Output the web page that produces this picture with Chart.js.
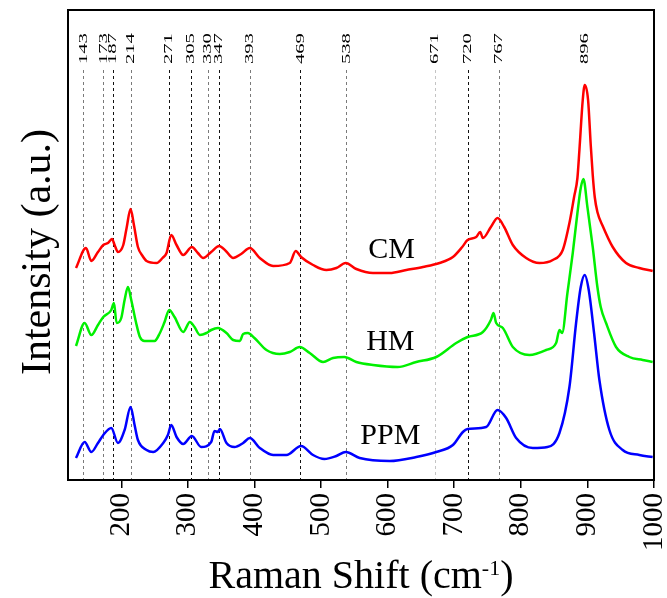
<!DOCTYPE html>
<html>
<head>
<meta charset="utf-8">
<script src="https://cdn.jsdelivr.net/npm/chart.js@4.4.0/dist/chart.umd.min.js"></script>
<style>
  html, body { margin: 0; padding: 0; background: #fff; }
  #wrap { width: 667px; height: 598px; position: relative; }
</style>
</head>
<body>
<div id="wrap"><canvas id="ramanChart"></canvas></div>
<script>
// Raman shift axis ticks (cm-1)
const xTicks = [200, 300, 400, 500, 600, 700, 800, 900, 1000];

// Assigned band positions marked across the plot
const peakShifts = [143, 173, 187, 214, 271, 305, 330, 347, 393, 469, 538, 671, 720, 767, 896];

// CM spectrum (offset, a.u.)
const cmShift = [132, 147, 155, 165, 173, 180, 186, 190, 195, 203, 208, 214, 219, 225, 232, 238, 253, 262, 268, 275, 283, 293, 306, 315, 323, 335, 347, 357, 368, 380, 393, 408, 428, 453, 462, 470, 488, 508, 523, 537, 553, 578, 603, 628, 653, 678, 698, 712, 720, 733, 739, 743, 755, 765, 775, 788, 808, 828, 848, 863, 873, 880, 885, 888, 893, 896, 901, 905, 908, 911, 915, 923, 938, 958, 978, 998];
const cmIntensity = [212, 232, 219, 228, 235, 237, 241, 235, 228, 235, 252, 271, 255, 233, 224, 219, 217, 222, 227, 245, 235, 225, 233, 227, 222, 228, 234, 229, 222, 226, 232, 222, 214, 217, 229, 223, 215, 210, 212, 217, 211, 207, 207, 210, 213, 217, 223, 233, 240, 243, 248, 242, 253, 262, 253, 235, 222, 217, 220, 230, 257, 283, 302, 330, 380, 395, 380, 335, 305, 283, 268, 254, 233, 217, 212, 209];

// HM spectrum (offset, a.u.)
const hmShift = [132, 145, 155, 165, 173, 185, 189, 193, 200, 205, 210, 215, 222, 228, 235, 250, 258, 265, 272, 280, 293, 303, 310, 318, 328, 335, 345, 358, 368, 378, 383, 390, 400, 418, 438, 453, 468, 483, 503, 518, 535, 553, 578, 615, 643, 673, 703, 720, 743, 755, 759, 763, 773, 788, 813, 838, 853, 858, 862, 870, 878, 885, 890, 894, 900, 908, 915, 920, 928, 943, 963, 983, 998];
const hmIntensity = [134, 157, 145, 155, 163, 170, 177, 157, 162, 180, 193, 180, 158, 143, 139, 139, 147, 158, 170, 163, 148, 158, 153, 145, 147, 150, 152, 147, 140, 139, 146, 147, 142, 130, 126, 128, 133, 127, 118, 122, 123, 118, 115, 113, 118, 123, 137, 143, 148, 160, 167, 157, 152, 133, 125, 130, 137, 150, 147, 187, 227, 267, 292, 301, 273, 233, 193, 173, 157, 133, 123, 120, 118];

// PPM spectrum (offset, a.u.)
const ppmShift = [132, 145, 155, 165, 173, 185, 195, 205, 214, 220, 225, 238, 248, 263, 270, 275, 283, 293, 306, 320, 335, 340, 345, 348, 358, 370, 383, 393, 408, 428, 448, 470, 488, 505, 523, 537, 558, 603, 643, 673, 698, 713, 720, 748, 765, 778, 793, 818, 840, 858, 873, 883, 890, 896, 902, 910, 918, 933, 953, 978, 998];
const ppmIntensity = [22, 38, 28, 37, 45, 52, 37, 50, 73, 55, 40, 30, 28, 37, 45, 55, 43, 36, 44, 33, 38, 49, 48, 51, 37, 33, 37, 42, 32, 25, 25, 34, 25, 21, 24, 28, 22, 19, 23, 28, 35, 48, 51, 53, 70, 62, 42, 32, 33, 47, 93, 157, 193, 205, 190, 147, 100, 50, 30, 25, 23];

const serif = "'Liberation Serif', 'Times New Roman', serif";

function toPoints(xs, ys) {
  return xs.map((x, i) => ({ x: x, y: ys[i] }));
}

// dark dashes for some bands, grey for the rest
const darkBands = [187, 271, 305, 347, 469, 720];
function guideColor(p) {
  if (p === 671) return '#c4c4c4';
  return darkBands.includes(p) ? '#111' : '#7a7a7a';
}

const decorations = {
  id: 'decorations',
  beforeDatasetsDraw(chart) {
    const { ctx, chartArea, scales: { x } } = chart;
    ctx.save();
    ctx.lineWidth = 1;
    ctx.setLineDash([3, 3]);
    peakShifts.forEach(p => {
      if (p === 896) return; // the 896 band has only its label
      const px = Math.round(x.getPixelForValue(p)) + 0.5;
      ctx.strokeStyle = guideColor(p);
      ctx.beginPath();
      ctx.moveTo(px, 70);
      ctx.lineTo(px, chartArea.bottom);
      ctx.stroke();
    });
    ctx.restore();
  },
  afterDraw(chart) {
    const { ctx, chartArea, scales: { x, y } } = chart;
    ctx.save();

    // frame
    ctx.strokeStyle = '#000';
    ctx.lineWidth = 2;
    ctx.strokeRect(chartArea.left, chartArea.top, chartArea.right - chartArea.left, chartArea.bottom - chartArea.top);

    // band labels, rotated and stretched along the text
    ctx.fillStyle = '#000';
    ctx.font = '12.5px ' + serif;
    ctx.textAlign = 'left';
    ctx.textBaseline = 'middle';
    peakShifts.forEach(p => {
      ctx.save();
      ctx.translate(x.getPixelForValue(p), 64);
      ctx.rotate(-Math.PI / 2);
      ctx.scale(1.65, 1);
      ctx.fillText(String(p), 0, 0);
      ctx.restore();
    });

    // sample names next to each trace
    ctx.font = '30px ' + serif;
    ctx.textAlign = 'center';
    ctx.textBaseline = 'middle';
    [['CM', 606, 230], ['HM', 604, 138], ['PPM', 604, 44]].forEach(([t, sx, sy]) => {
      ctx.fillText(t, x.getPixelForValue(sx), y.getPixelForValue(sy));
    });

    // y axis title
    ctx.save();
    ctx.font = '42px ' + serif;
    ctx.textBaseline = 'alphabetic';
    ctx.translate(50, (chartArea.top + chartArea.bottom) / 2 + 7);
    ctx.rotate(-Math.PI / 2);
    ctx.fillText('Intensity (a.u.)', 0, 0);
    ctx.restore();

    // x axis title with superscript
    const main = 'Raman Shift (cm';
    const sup = '-1';
    const close = ')';
    ctx.textAlign = 'left';
    ctx.textBaseline = 'alphabetic';
    ctx.font = '40px ' + serif;
    const wMain = ctx.measureText(main).width;
    const wClose = ctx.measureText(close).width;
    ctx.font = '22px ' + serif;
    const wSup = ctx.measureText(sup).width;
    const total = wMain + wSup + wClose;
    let tx = (chartArea.left + chartArea.right) / 2 - total / 2;
    const base = 588;
    ctx.font = '40px ' + serif;
    ctx.fillText(main, tx, base);
    tx += wMain;
    ctx.font = '22px ' + serif;
    ctx.fillText(sup, tx, base - 13);
    tx += wSup;
    ctx.font = '40px ' + serif;
    ctx.fillText(close, tx, base);

    ctx.restore();
  }
};

new Chart(document.getElementById('ramanChart'), {
  type: 'line',
  data: {
    datasets: [
      { label: 'CM', data: toPoints(cmShift, cmIntensity), borderColor: '#ff0000' },
      { label: 'HM', data: toPoints(hmShift, hmIntensity), borderColor: '#00f000' },
      { label: 'PPM', data: toPoints(ppmShift, ppmIntensity), borderColor: '#0000ff' }
    ]
  },
  options: {
    responsive: true,
    maintainAspectRatio: false,
    animation: false,
    layout: { padding: { left: 68, right: 13, top: 10, bottom: 0 } },
    elements: {
      point: { radius: 0 },
      line: { borderWidth: 2.5, cubicInterpolationMode: 'monotone', fill: false }
    },
    plugins: {
      legend: { display: false },
      tooltip: { enabled: false }
    },
    scales: {
      x: {
        type: 'linear',
        min: 120,
        max: 1000,
        afterBuildTicks: s => { s.ticks = xTicks.map(v => ({ value: v })); },
        afterFit: s => { s.height = 118; s.paddingLeft = 0; s.paddingRight = 0; },
        ticks: {
          color: '#000',
          font: { family: serif, size: 29 },
          minRotation: 90,
          maxRotation: 90,
          padding: 5,
          autoSkip: false,
          callback: v => String(v)
        },
        grid: { drawOnChartArea: false, tickLength: 8, color: '#000', lineWidth: 1.5 },
        border: { color: '#000', width: 2 }
      },
      y: { display: false, min: 0, max: 470 }
    }
  },
  plugins: [decorations]
});
</script>
</body>
</html>
